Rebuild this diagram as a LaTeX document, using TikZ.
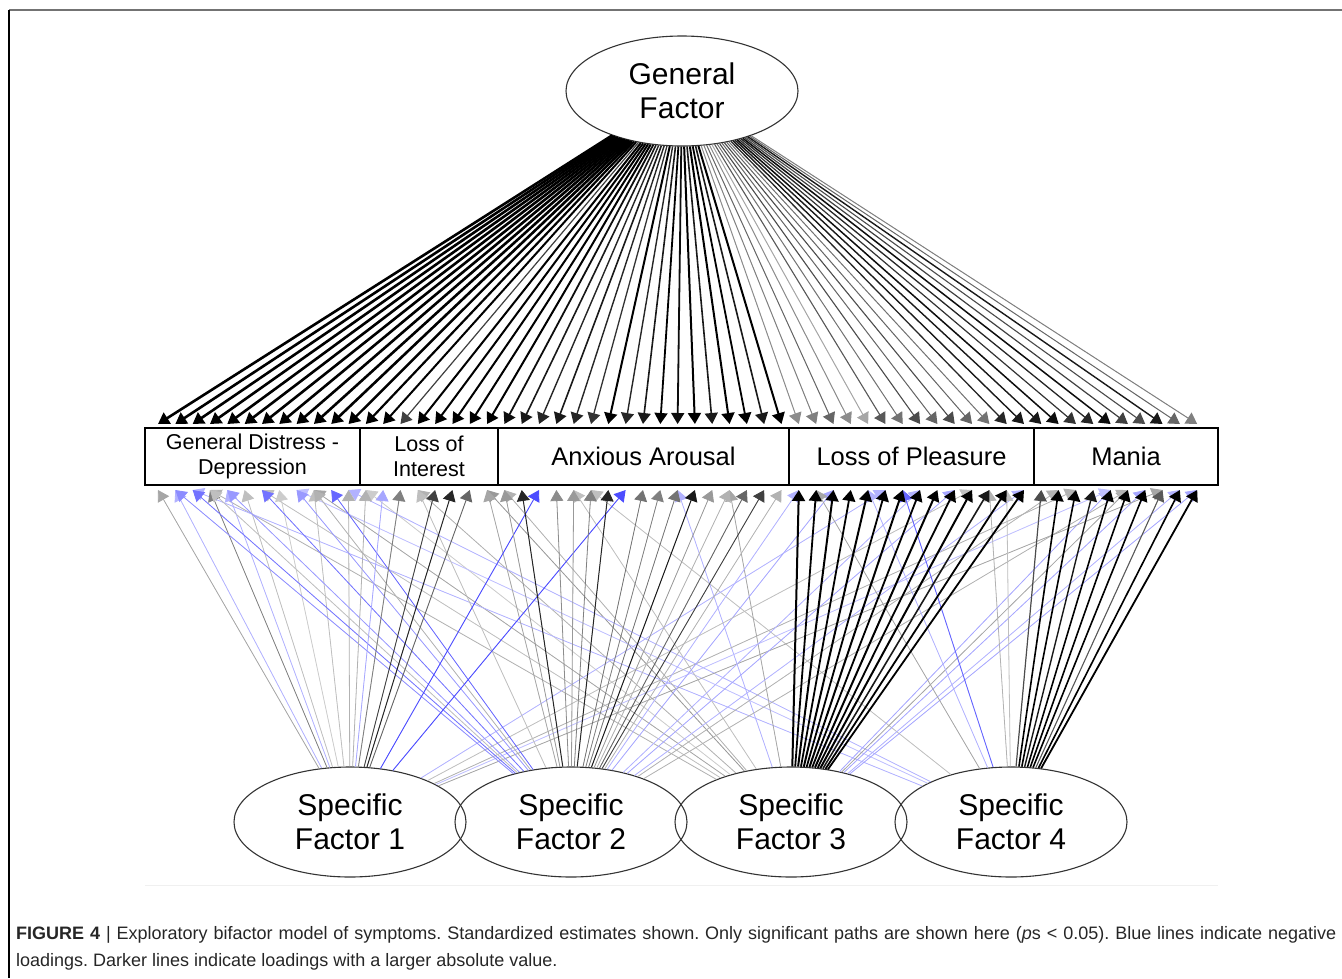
\documentclass[tikz,border=0pt]{standalone}
\usepackage{fontspec}
\setmainfont{Liberation Sans}
\usetikzlibrary{arrows.meta,shapes.geometric}
\begin{document}
\begin{tikzpicture}[x=1pt,y=-1pt,
  fac/.style={draw=black!80, line width=1.1pt, ellipse, minimum width=232pt, minimum height=110pt, inner sep=0pt, align=center, font=\fontsize{30}{34}\selectfont},
  grp/.style={draw=black, line width=1.8pt, rectangle, minimum height=57pt, inner sep=0pt, align=center},
  small/.style={font=\fontsize{21.5}{25.5}\selectfont},
  big/.style={font=\fontsize{25.5}{30}\selectfont},
  ld/.style={-{Triangle[length=11pt,width=13pt]}},
  frame/.style={line width=1.5pt}]
\useasboundingbox (0,0) rectangle (1342,978);
% frame
\draw[frame, black!55] (9,10) coordinate (fa) -- (1342,10) coordinate (fb);
\draw[frame, black] (fa) -- (9,978) coordinate (fc);
\draw[black!6, line width=1pt] (145,885) coordinate (ea) -- (1218,885) coordinate (eb);
% factors
\node[fac] (gf) at (682,91) {General\\Factor};
\node[fac] (s1) at (350,822) {Specific\\Factor 1};
\node[fac] (s2) at (571,822) {Specific\\Factor 2};
\node[fac] (s3) at (791,822) {Specific\\Factor 3};
\node[fac] (s4) at (1011,822) {Specific\\Factor 4};
% item coordinates
\foreach \i in {0,...,60} {
  \coordinate (t\i) at ({158+17.32*\i},424);
  \coordinate (b\i) at ({158+17.32*\i},490);
}
% general factor loadings
\foreach \i/\c/\w in {
  37/45/1,38/50/1,39/60/1,40/45/1,41/35/1,42/65/1.1,43/55/1,44/70/1.1,45/60/1,46/70/1.1,47/60/1,48/55/1,49/85/1.3,50/90/1.4,
  51/90/1.4,52/95/1.5,53/80/1.2,54/85/1.3,55/95/1.5,56/75/1.2,57/70/1.1,58/90/1.4,59/60/1,60/50/1,
  14/75/1.2,22/85/1.4,24/85/1.4,25/80/1.3,27/85/1.4,21/90/1.6,23/90/1.6,28/90/1.6,32/90/1.6,35/90/1.6,
  20/95/1.8,29/100/1.8,30/95/1.8,34/100/1.8,26/100/2,31/100/2,33/100/2,36/100/2,
  12/100/2.2,13/100/2,15/100/2,16/100/2,17/100/2,18/100/2,19/100/2,
  0/100/2.6,1/100/2.6,2/100/2.6,3/100/2.6,4/100/2.6,5/100/2.6,6/100/2.6,7/100/2.6,8/100/2.6,9/100/2.6,10/100/2.6,11/100/2.4}
  { \draw[ld, draw=black!\c, fill=black!\c, line width=\w pt] (gf) -- (t\i); }
% specific factor loadings: cross-loadings (light) first
\foreach \s/\i/\c/\w in {
  s3/3/black!30/0.8, s3/6/black!25/0.8, s3/9/black!35/0.8, s3/12/black!20/0.8, s3/15/black!30/0.8, s3/19/black!40/0.8,
  s4/2/blue!30/0.8, s4/8/blue!25/0.8, s4/11/blue!30/0.8, s4/25/black!25/0.8,
  s3/20/black!30/0.8, s3/24/black!25/0.8, s3/30/blue!30/0.8, s3/33/black!35/0.8,
  s3/55/blue!35/0.8, s3/57/blue!35/0.8, s3/59/blue!30/0.8, s3/60/blue!35/0.8, s3/56/black!35/0.8,
  s2/56/black!30/0.8, s1/58/black!35/0.8, s1/53/black!30/0.8, s1/55/blue!25/0.8, s2/52/black!30/0.8,
  s2/37/blue!30/0.8, s2/39/blue!35/0.8, s2/44/blue!30/0.8, s2/46/blue!35/0.8, s2/50/blue!30/0.8,
  s1/42/blue!30/0.8, s1/47/black!25/0.8,
  s4/38/black!35/0.8, s4/41/blue!30/0.8, s4/48/black!30/0.8, s4/49/black!25/0.8, s4/43/blue!60/0.9,
  s1/0/black!35/0.8, s1/3/black!50/0.8, s1/5/black!25/0.8, s1/7/black!20/0.8, s1/9/black!25/0.8, s1/11/black!30/0.8,
  s1/1/blue!30/0.8, s1/4/blue!30/0.8,
  s2/1/blue!45/0.8, s2/2/blue!55/0.8, s2/4/blue!40/0.8, s2/6/blue!55/0.8, s2/8/blue!40/0.8, s2/10/blue!60/0.8,
  s2/3/black!25/0.8, s2/9/black!30/0.8,
  s2/15/black!25/0.8, s2/19/black!35/0.8,
  s1/12/black!30/0.8, s1/13/blue!35/0.8, s1/14/black!50/0.9, s1/16/black!75/0.9, s1/17/black!85/1, s1/18/black!60/0.9,
  s1/22/blue!70/0.9, s1/27/blue!70/0.9,
  s2/20/black!40/0.8, s2/23/black!45/0.8, s2/24/black!40/0.8, s2/25/black!50/0.8, s2/28/black!55/0.8, s2/29/black!50/0.8,
  s2/30/black!55/0.8, s2/32/black!40/0.8, s2/33/black!30/0.8, s2/34/black!60/0.9, s2/36/black!30/0.8,
  s2/21/black!85/1, s2/26/black!85/1, s2/31/black!90/1, s2/35/black!75/0.9}
  { \draw[ld, draw=\c, fill=\c, line width=\w pt] (\s) -- (b\i); }
% main loadings
\foreach \s/\i/\c/\w in {
  s3/37/black/2, s3/38/black/1.8, s3/39/black/2, s3/40/black/1.8, s3/41/black/2, s3/42/black/1.8, s3/43/black/2,
  s3/44/black/1.8, s3/45/black/2, s3/46/black/1.8, s3/47/black/2, s3/48/black!90/1.6, s3/49/black/1.8, s3/50/black/1.8,
  s4/51/black!70/1.2, s4/52/black/1.6, s4/53/black/1.6, s4/54/black!90/1.4, s4/55/black/1.6, s4/56/black/1.6,
  s4/57/black/1.6, s4/58/black!65/1.1, s4/59/black/1.6, s4/60/black/1.8}
  { \draw[ld, draw=\c, fill=\c, line width=\w pt] (\s) -- (b\i); }
% groups
\node[grp, small, minimum width=215pt] (gdd) at (252.5,456.5) {General Distress -\\Depression};
\node[grp, small, minimum width=138pt] (loi) at (429,456.5) {Loss of\\Interest};
\node[grp, big, minimum width=291pt] (aa) at (643.5,456.5) {Anxious Arousal};
\node[grp, big, minimum width=245pt] (lop) at (911.5,456.5) {Loss of Pleasure};
\node[grp, big, minimum width=184pt] (man) at (1126,456.5) {Mania};
% caption
\node[anchor=base west, inner sep=0pt, text=black!85] (cap1) at (16,939)
  {\fontsize{18}{21}\selectfont\frenchspacing\makebox[1320pt][s]{\textbf{FIGURE 4} | Exploratory bifactor model of symptoms. Standardized estimates shown. Only significant paths are shown here (\textit{p}s < 0.05). Blue lines indicate negative}};
\node[anchor=base west, inner sep=0pt, text=black!85] (cap2) at (16,966)
  {\fontsize{18}{21}\selectfont\frenchspacing loadings. Darker lines indicate loadings with a larger absolute value.};
\end{tikzpicture}
\end{document}
